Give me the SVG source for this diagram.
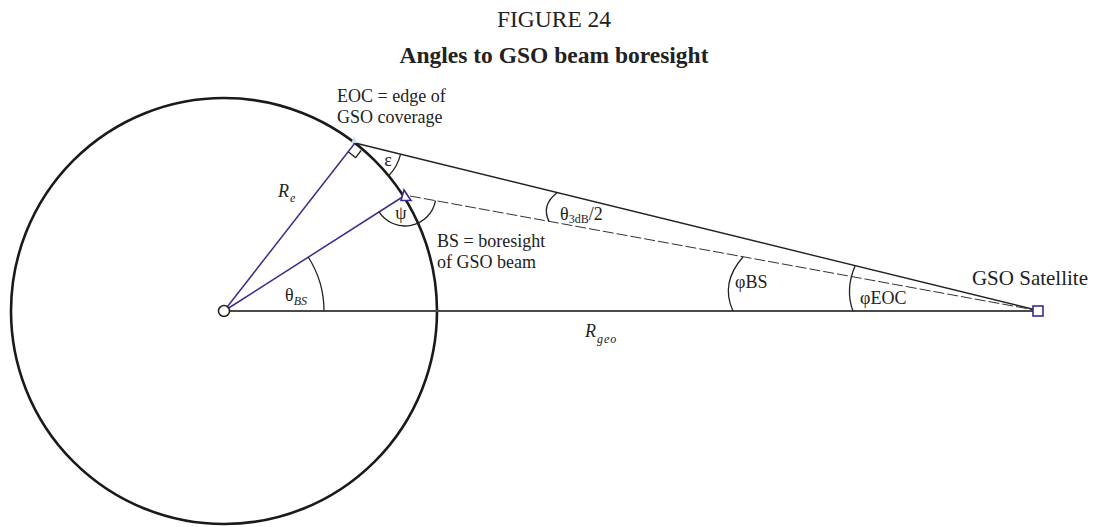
<svg xmlns="http://www.w3.org/2000/svg" width="1094" height="527" viewBox="0 0 1094 527">
<style>
text{font-family:"Liberation Serif","Times New Roman",serif;fill:#222}
.t{font-size:18px}
.it{font-style:italic}
.sub{font-size:12px}
.arc{fill:none;stroke:#222;stroke-width:1.3}
.purple{stroke:#3a2c8c;stroke-width:1.5;fill:none}
</style>
<rect width="1094" height="527" fill="#fff"/>
<g id="title">
<text x="554" y="27" text-anchor="middle" style="font-size:23.5px">FIGURE 24</text>
<text x="554" y="63" text-anchor="middle" style="font-size:23.5px;font-weight:bold">Angles to GSO beam boresight</text>
</g>
<g id="earth">
<circle cx="224" cy="311" r="213" fill="none" stroke="#1a1a1a" stroke-width="2.6"/>
</g>
<g id="connectors">
<line x1="230" y1="311" x2="1033" y2="311" stroke="#4a4a4a" stroke-width="2"/>
<line x1="355" y1="143" x2="1036" y2="310" stroke="#222" stroke-width="1.4"/>
<line x1="410" y1="196" x2="1035" y2="310" stroke="#333" stroke-width="1" stroke-dasharray="11 3"/>
<line x1="224" y1="311" x2="355" y2="143" class="purple"/>
<line x1="224" y1="311" x2="404" y2="196" class="purple"/>
</g>
<g id="angles">
<path class="arc" d="M324,311 A100,100 0 0 0 308.2,257"/>
<path class="arc" d="M378.9,211.7 A31,31 0 0 0 435.5,200.6"/>
<path class="arc" d="M400.6,154.2 A47,47 0 0 1 388.5,176"/>
<path class="arc" d="M557,192.7 Q541,205 549,221.4"/>
<path class="arc" d="M743,257 Q720,283 733,311"/>
<path class="arc" d="M855,266 Q845,290 853,311"/>
<polyline points="348.5,152.1 355.6,157.6 361.1,150.5" fill="none" stroke="#222" stroke-width="1.3"/>
</g>
<g id="center">
<circle cx="224" cy="311" r="5.5" fill="#fff" stroke="#222" stroke-width="1.5"/>
</g>
<g id="eoc-point">
<polygon points="354,137 351,143 357,143" fill="#c9d9ea"/>
</g>
<g id="bs-point">
<polygon points="404,190 401,200.5 411,200.5" fill="#fff" stroke="#3a2c8c" stroke-width="1.6"/>
</g>
<g id="satellite">
<rect x="1033" y="306" width="10" height="10" fill="#fff" stroke="#3a2c8c" stroke-width="1.6"/>
<text x="1030" y="285" text-anchor="middle" style="font-size:21px">GSO Satellite</text>
</g>
<g id="labels">
<text class="t" x="337" y="102">EOC = edge of</text>
<text class="t" x="337" y="123">GSO coverage</text>
<text class="t" x="437" y="247">BS = boresight</text>
<text class="t" x="437" y="268">of GSO beam</text>
<text class="t it" x="278" y="197">R<tspan class="sub" dx="1" dy="5">e</tspan></text>
<text class="t" x="285" y="301">θ<tspan class="sub it" dy="4">BS</tspan></text>
<text class="t" x="401" y="219" text-anchor="middle">ψ</text>
<text class="t" x="388" y="166" text-anchor="middle">ε</text>
<text class="t" x="560" y="220">θ<tspan class="sub" dy="3">3dB</tspan><tspan dy="-3">/2</tspan></text>
<text class="t" x="735" y="288">φBS</text>
<text class="t" x="860" y="304">φEOC</text>
<text class="t it" x="585" y="337">R<tspan class="sub" dx="1" dy="6" letter-spacing="1">geo</tspan></text>
</g>
</svg>
